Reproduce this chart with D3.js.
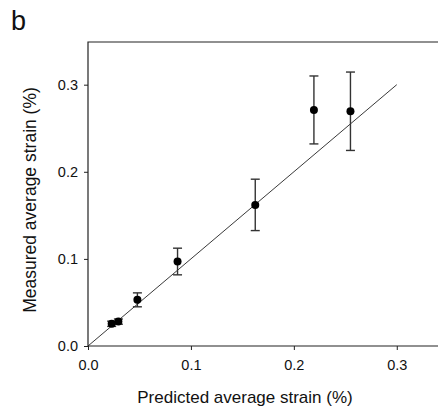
<!DOCTYPE html>
<html>
<head>
<meta charset="utf-8">
<script src="https://cdn.jsdelivr.net/npm/d3@7"></script>
<style>
  body { margin: 0; background: #fff; }
  svg text { font-family: "Liberation Sans", Arial, sans-serif; fill: #111; }
</style>
</head>
<body>
<div id="chart"></div>
<script>
const width = 438, height = 410;
const margin = { top: 42, right: -2, bottom: 64, left: 88 };

// data
const predicted = [0.023, 0.0295, 0.048, 0.087, 0.1625, 0.2195, 0.255];
const measured  = [0.0255, 0.028, 0.053, 0.097, 0.162, 0.271, 0.2695];
const errors    = [0.003, 0.003, 0.008, 0.0153, 0.0295, 0.039, 0.045];
const ticks = [0.0, 0.1, 0.2, 0.3];
const fitLine = [0, 0.3];

const svg = d3.select("#chart").append("svg")
  .attr("width", width)
  .attr("height", height);

const iw = width - margin.left - margin.right;
const ih = height - margin.top - margin.bottom;

const chart = svg.append("g")
  .attr("transform", `translate(${margin.left},${margin.top})`);

const x = d3.scaleLinear().domain([0, 0.342]).range([0, iw]);
const y = d3.scaleLinear().domain([0, 0.349]).range([ih, 0]);

// axes
const xAxis = chart.append("g")
  .attr("transform", `translate(0,${ih})`)
  .call(d3.axisBottom(x).tickValues(ticks).tickFormat(d3.format(".1f")).tickSize(4).tickPadding(10));

const yAxis = chart.append("g")
  .call(d3.axisLeft(y).tickValues(ticks).tickFormat(d3.format(".1f")).tickSize(4).tickPadding(6));

[xAxis, yAxis].forEach(a => {
  a.selectAll("text").style("font-size", "14.5px");
  a.selectAll("path, line").attr("stroke", "#222");
  a.select(".domain").attr("d", null);
});

// frame: left, top, bottom
chart.append("path")
  .attr("d", `M${iw},0H0V${ih}H${iw}`)
  .attr("fill", "none")
  .attr("stroke", "#222")
  .attr("stroke-width", 1.2);

// 1:1 line
chart.append("line")
  .attr("x1", x(fitLine[0])).attr("y1", y(fitLine[0]))
  .attr("x2", x(fitLine[1])).attr("y2", y(fitLine[1]))
  .attr("stroke", "#222")
  .attr("stroke-width", 0.9);

const pts = predicted.map((p, i) => ({ p, m: measured[i], e: errors[i] }));

// error bars
const eb = chart.append("g").attr("stroke", "#333").attr("stroke-width", 1.4);
pts.forEach(d => {
  eb.append("line")
    .attr("x1", x(d.p)).attr("x2", x(d.p))
    .attr("y1", y(d.m - d.e)).attr("y2", y(d.m + d.e));
  [d.m - d.e, d.m + d.e].forEach(v => {
    eb.append("line")
      .attr("x1", x(d.p) - 4.5).attr("x2", x(d.p) + 4.5)
      .attr("y1", y(v)).attr("y2", y(v));
  });
});

chart.selectAll("circle")
  .data(pts)
  .join("circle")
  .attr("cx", d => x(d.p))
  .attr("cy", d => y(d.m))
  .attr("r", 4)
  .attr("fill", "#000");

// titles
svg.append("text")
  .attr("x", 245).attr("y", 403)
  .attr("text-anchor", "middle")
  .style("font-size", "17px")
  .text("Predicted average strain (%)");

svg.append("text")
  .attr("transform", "translate(36,200) rotate(-90)")
  .attr("text-anchor", "middle")
  .style("font-size", "17.5px")
  .text("Measured average strain (%)");

svg.append("text")
  .attr("x", 11).attr("y", 30)
  .style("font-size", "27px")
  .text("b");
</script>
</body>
</html>
